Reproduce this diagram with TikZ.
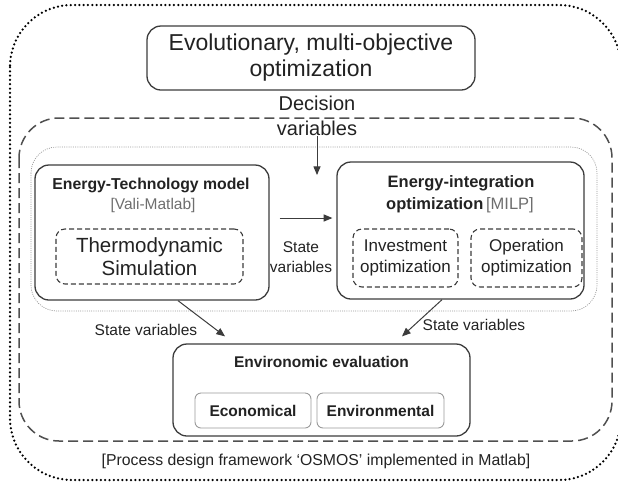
\documentclass[tikz,border=0pt]{standalone}
\usepackage{fontspec}
\setmainfont{Liberation Sans}
\usepackage{tikz}
\usetikzlibrary{arrows}

\definecolor{boxgray}{HTML}{3C3C3C}
\definecolor{dashgray}{HTML}{505050}
\definecolor{litegray}{HTML}{9A9A9A}
\definecolor{txtgray}{HTML}{222222}
\definecolor{taggray}{HTML}{6E6E6E}

\tikzset{
  mainbox/.style={draw=boxgray, line width=1.3pt, rounded corners=14pt, inner sep=0pt},
  subbox/.style={draw=boxgray, line width=1.1pt, dash pattern=on 5pt off 3pt, rounded corners=9pt, inner sep=0pt, align=center, text=txtgray},
  tagbox/.style={draw=litegray, line width=0.9pt, rounded corners=6pt, inner sep=0pt, text=txtgray},
  lbl/.style={text=txtgray, align=center, inner sep=0pt},
  flow/.style={draw=boxgray, line width=1pt, -triangle 45}
}

\begin{document}
\begin{tikzpicture}[x=1pt,y=-1pt]
        \clip (0,0) rectangle (618,483);
        % frames
        \draw[line width=2.5pt, line cap=round, dash pattern=on 0pt off 4.3pt, rounded corners=62pt] (10,5) rectangle (621,480);
        \draw[dashgray, line width=1.5pt, dash pattern=on 10pt off 5pt, rounded corners=40pt] (19,118) rectangle (612,441);
        \draw[litegray, line width=0.7pt, dash pattern=on 1pt off 1.2pt, rounded corners=26pt] (31,147) rectangle (597,311);
        % optimizer
        \node[mainbox, lbl, minimum width=328pt, minimum height=64pt, font=\fontsize{23}{26}\selectfont] (evo) at (311,58) {Evolutionary, multi-objective\\optimization};
        \node[lbl, font=\fontsize{20}{25}\selectfont] (dec) at (317,115.5) {Decision\\variables};
        \coordinate (decin) at (317,175);
        % energy-technology model
        \node[mainbox, minimum width=234pt, minimum height=135pt] (etm) at (152,232.5) {};
        \node[lbl, font=\fontsize{15.8}{18}\selectfont\bfseries] (etmname) at (151,185) {Energy-Technology model};
        \node[lbl, text=taggray, font=\fontsize{15.5}{18}\selectfont] (etmtool) at (153,205) {[Vali-Matlab]};
        \node[subbox, minimum width=187pt, minimum height=55pt, font=\fontsize{20.5}{23}\selectfont] (thermo) at (149.5,256.5) {Thermodynamic\\Simulation};
        % energy-integration
        \node[mainbox, minimum width=247pt, minimum height=137pt] (eio) at (460.5,230.5) {};
        \node[lbl, font=\fontsize{16.5}{20}\selectfont\bfseries] (eioname) at (461,183) {Energy-integration};
        \node[lbl, font=\fontsize{16.5}{20}\selectfont] (eiotool) at (460,205) {\textbf{optimization}\,{\color{taggray}[MILP]}};
        \node[subbox, minimum width=105pt, minimum height=58pt, font=\fontsize{17}{21}\selectfont] (inv) at (405.5,258) {Investment\\optimization};
        \node[subbox, minimum width=111pt, minimum height=58pt, font=\fontsize{17}{21}\selectfont] (oper) at (526.5,258) {Operation\\optimization};
        % evaluation
        \node[mainbox, minimum width=297pt, minimum height=92pt] (envn) at (321.5,390) {};
        \node[lbl, font=\fontsize{15.5}{18}\selectfont\bfseries] (envnname) at (321.5,362) {Environomic evaluation};
        \node[tagbox, minimum width=116pt, minimum height=35pt, font=\fontsize{15.5}{18}\selectfont\bfseries] (eco) at (253,410.5) {Economical};
        \node[tagbox, minimum width=127pt, minimum height=35pt, font=\fontsize{15.5}{18}\selectfont\bfseries] (envl) at (380.5,410.5) {Environmental};
        % labels
        \node[lbl, font=\fontsize{15.5}{20}\selectfont] (svmid) at (301,257.5) {State\\variables};
        \node[lbl, font=\fontsize{15.5}{18}\selectfont] (svleft) at (146,330) {State variables};
        \node[lbl, font=\fontsize{15.5}{18}\selectfont] (svright) at (474,325) {State variables};
        \node[lbl, font=\fontsize{15.8}{18}\selectfont] (osmos) at (316,461) {[Process design framework ‘OSMOS’ implemented in Matlab]};
        % connectors
        \draw[flow] (dec.south) -- (decin);
        \draw[flow] ([shift={(10,-14.5)}]etm.east) -- ([shift={(-4,-12.5)}]eio.west);
        \draw[flow] ([xshift=26pt]etm.south) -- ([shift={(-96.5,-7)}]envn.north);
        \draw[flow] ([xshift=-18.5pt]eio.south) -- ([shift={(80.5,-7)}]envn.north);
\end{tikzpicture}
\end{document}
